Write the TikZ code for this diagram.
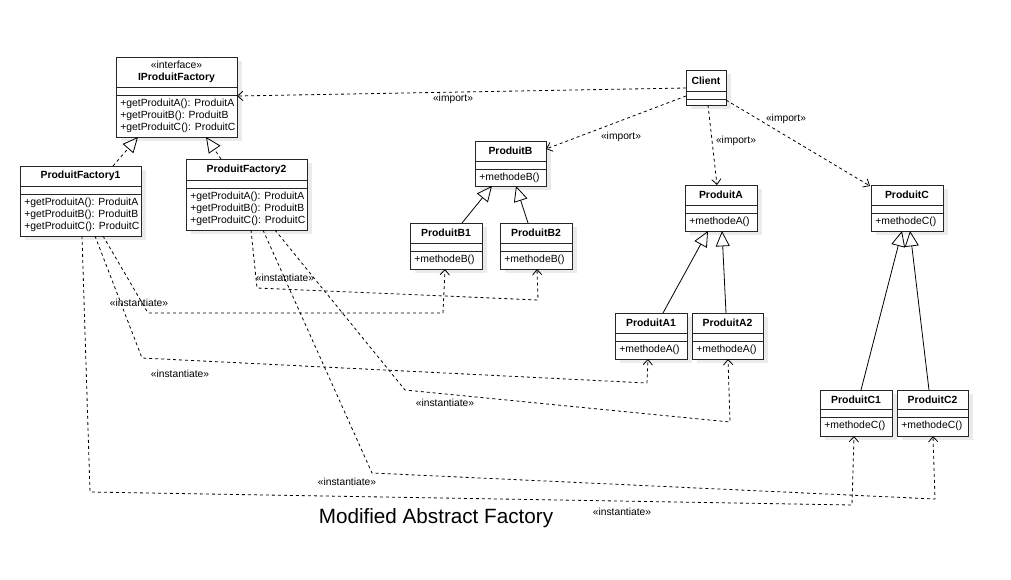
\documentclass[tikz,border=0pt]{standalone}
\usepackage{fontspec}
\setmainfont{Liberation Sans}
\usetikzlibrary{calc,arrows.meta,shadows}
\tikzset{
  cls/.style={draw=black!85, line width=0.75pt, fill=white, anchor=north west,
    inner sep=0pt, outer sep=0pt,
    drop shadow={shadow xshift=4pt, shadow yshift=-3pt, fill=black!8, opacity=1}},
  sepline/.style={draw=black!85, line width=0.75pt},
  hdr/.style={font=\bfseries\fontsize{7.8}{9.2}\selectfont, inner sep=0pt, align=center},
  bodytxt/.style={font=\fontsize{7.8}{9}\selectfont, inner sep=0pt, anchor=north west, align=left},
  lbl/.style={font=\fontsize{7.7}{9}\selectfont, inner sep=0pt},
  dsh/.style={dash pattern=on 2.25pt off 2.25pt, line width=0.6pt},
  depend/.style={dsh, -{Straight Barb[length=4pt,width=7pt,line width=0.6pt]}},
  realize/.style={dsh, -{Triangle[open,length=11.5pt,width=10.5pt,line width=0.6pt]}},
  general/.style={line width=0.6pt, -{Triangle[open,length=11.5pt,width=10.5pt,line width=0.6pt]}},
}
\newcommand\umlcls[8]{%
  \node[cls, minimum width=#4*0.75pt, minimum height=#6*0.75pt] (#1) at (#2,#3) {};
  \draw[sepline] ($(#1.north west)+(0,#5)$) -- ($(#1.north east)+(0,#5)$);
  \draw[sepline] ($(#1.north west)+(0,#5+8)$) -- ($(#1.north east)+(0,#5+8)$);
  \node[hdr] (#1-h) at ($(#1.north)+(0,#5/2)$) {#7};
  \node[bodytxt] (#1-b) at ($(#1.north west)+(4,#5+8+3.5)$) {#8};
}
\begin{document}
\begin{tikzpicture}[x=0.75pt,y=-0.75pt]
\useasboundingbox[fill=white] (0,0) rectangle (1011,579);

% classes
\umlcls{ipf}{116}{57}{121}{30}{80}{{\mdseries «interface»}\\IProduitFactory}{+getProduitA(): ProduitA\\+getProuitB(): ProduitB\\+getProduitC(): ProduitC}
\umlcls{pf1}{20}{166}{121}{20}{70}{ProduitFactory1}{+getProduitA(): ProduitA\\+getProduitB(): ProduitB\\+getProduitC(): ProduitC}
\umlcls{pf2}{186}{159}{121}{21}{71}{ProduitFactory2}{+getProduitA(): ProduitA\\+getProduitB(): ProduitB\\+getProduitC(): ProduitC}
\umlcls{client}{686}{70}{40}{21}{35}{Client}{}
\umlcls{pB}{475}{141}{71}{20}{45}{ProduitB}{+methodeB()}
\umlcls{pB1}{410}{223}{72}{20}{46}{ProduitB1}{+methodeB()}
\umlcls{pB2}{500}{223}{72}{20}{46}{ProduitB2}{+methodeB()}
\umlcls{pA}{685}{185}{72}{20}{46}{ProduitA}{+methodeA()}
\umlcls{pC}{871}{185}{72}{20}{46}{ProduitC}{+methodeC()}
\umlcls{pA1}{615}{313}{72}{20}{46}{ProduitA1}{+methodeA()}
\umlcls{pA2}{692}{313}{71}{20}{46}{ProduitA2}{+methodeA()}
\umlcls{pC1}{820}{390}{72}{19}{46}{ProduitC1}{+methodeC()}
\umlcls{pC2}{897}{390}{71}{19}{46}{ProduitC2}{+methodeC()}

% imports
\draw[depend] ($(client.north west)+(0,18)$) -- ($(ipf.north east)+(0,39)$);
\draw[depend] ($(client.north west)+(0,26)$) -- ($(pB.north east)+(0,8)$);
\draw[depend] ($(client.south west)+(22,0)$) -- ($(pA.north west)+(32,0)$);
\draw[depend] ($(client.north east)+(0,30)$) -- ($(pC.north west)+(-1,1)$);
\node[lbl] (li1) at (453,99) {«import»};
\node[lbl] (li2) at (621,137) {«import»};
\node[lbl] (li3) at (736,141) {«import»};
\node[lbl] (li4) at (786,119) {«import»};

% realizations
\draw[realize] ($(pf1.north west)+(93,0)$) -- ($(ipf.south west)+(22,0)$);
\draw[realize] ($(pf2.north west)+(35,0)$) -- ($(ipf.south west)+(90,0)$);

% generalizations
\draw[general] ($(pB1.north west)+(52,0)$) -- ($(pB.south west)+(17,0)$);
\draw[general] ($(pB2.north west)+(28,0)$) -- ($(pB.south west)+(41,0)$);
\draw[general] ($(pA1.north west)+(48,0)$) -- ($(pA.south west)+(23,0)$);
\draw[general] ($(pA2.north west)+(34,0)$) -- ($(pA.south west)+(37,0)$);
\draw[general] ($(pC1.north west)+(41,0)$) -- ($(pC.south west)+(31,0)$);
\draw[general] ($(pC2.north west)+(32,0)$) -- ($(pC.south west)+(39,0)$);

% instantiations
\draw[depend] ($(pf1.south west)+(83,0)$) -- (148,313) -- (443,313) -- ($(pB1.south west)+(35,0)$);
\draw[depend] ($(pf1.south west)+(75,0)$) -- (142,358) -- (647,383) -- ($(pA1.south west)+(33,0)$);
\draw[depend] ($(pf1.south west)+(62,0)$) -- (90,492) -- (852,505) -- ($(pC1.south west)+(34,0)$);
\draw[depend] ($(pf2.south west)+(65,0)$) -- (257,288) -- (538,300) -- ($(pB2.south west)+(37,0)$);
\draw[depend] ($(pf2.south west)+(89,0)$) -- (405,390) -- (730,422) -- ($(pA2.south west)+(36,0)$);
\draw[depend] ($(pf2.south west)+(77,0)$) -- (372,473) -- (935,499) -- ($(pC2.south west)+(36,0)$);
\node[lbl] (ln1) at (139,303) {«instantiate»};
\node[lbl] (ln2) at (285,278) {«instantiate»};
\node[lbl] (ln3) at (180,374) {«instantiate»};
\node[lbl] (ln4) at (445,403) {«instantiate»};
\node[lbl] (ln5) at (347,482) {«instantiate»};
\node[lbl] (ln6) at (622,512) {«instantiate»};

% title
\node[font=\fontsize{15.5}{18}\selectfont, inner sep=0pt] (title) at (436,518) {Modified Abstract Factory};
\end{tikzpicture}
\end{document}
